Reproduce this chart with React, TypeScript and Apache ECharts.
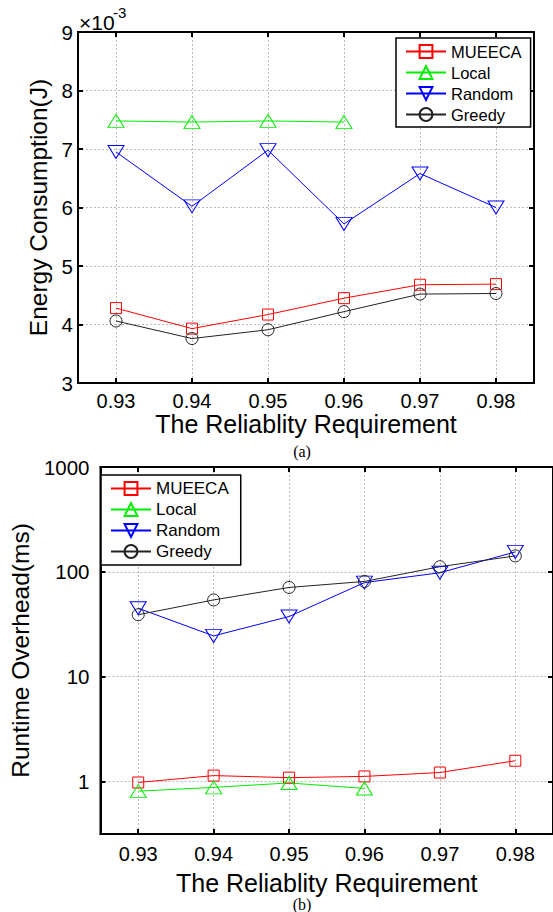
import React, { useEffect, useRef } from "react";
import * as echarts from "echarts";

const categories = ["0.93", "0.94", "0.95", "0.96", "0.97", "0.98"];
const seriesNames = ["MUEECA", "Local", "Random", "Greedy"];

// Energy consumption (x 10^-3 J)
const energyMUEECA = [4.28, 3.93, 4.17, 4.45, 4.68, 4.69];
const energyLocal = [7.48, 7.46, 7.48, 7.46];
const energyRandom = [6.95, 6.02, 6.98, 5.72, 6.58, 6.0];
const energyGreedy = [4.06, 3.76, 3.91, 4.22, 4.52, 4.53];

// Runtime overhead (ms)
const runtimeMUEECA = [0.98, 1.14, 1.09, 1.12, 1.22, 1.58];
const runtimeLocal = [0.81, 0.88, 0.97, 0.86];
const runtimeRandom = [45, 24.5, 37.5, 79, 98, 155];
const runtimeGreedy = [39, 54, 71, 81, 112, 142];

const logTickLabels = ["1", "10", "100", "1000"];

const FONT = "Liberation Sans, Arial, sans-serif";
const COLORS = ["#ff0000", "#00ee00", "#0000ff", "#222222"];
const SYMBOLS = ["rect", "triangle", "path://M0,0 L16,0 L8,13 Z", "circle"];
const SIZES: any[] = [11, [16, 13], [16, 13], 12];

function toPairs(vals: number[]) {
  return vals.map((v, i) => [i, v]);
}

function makeSeries(idx: number, vals: number[], axisIdx: number) {
  return {
    name: seriesNames[idx],
    type: "line",
    xAxisIndex: axisIdx,
    yAxisIndex: axisIdx,
    data: toPairs(vals),
    symbol: SYMBOLS[idx],
    symbolSize: SIZES[idx],
    showAllSymbol: true,
    lineStyle: { color: COLORS[idx], width: 1 },
    itemStyle: { color: "rgba(0,0,0,0)", borderColor: COLORS[idx], borderWidth: 1 },
    emphasis: { disabled: true },
    z: 3,
  };
}

const gridLine = { show: true, lineStyle: { color: "#bdbdbd", type: [2, 2], width: 1 } };
const boxLine = { show: true, onZero: false, lineStyle: { color: "#000", width: 2 } };
const inTick = { show: true, inside: true, length: 5, lineStyle: { color: "#000", width: 2 } };

function xAxisMain(gridIndex: number, margin: number, nameGap: number) {
  return {
    type: "value",
    gridIndex,
    min: -0.5,
    max: 5.5,
    minInterval: 1,
    maxInterval: 1,
    position: "bottom",
    name: "The Reliablity Requirement",
    nameLocation: "middle",
    nameGap,
    nameTextStyle: { fontFamily: FONT, fontSize: 25, color: "#000" },
    axisLine: boxLine,
    axisTick: inTick,
    axisLabel: {
      showMinLabel: false,
      showMaxLabel: false,
      margin,
      fontFamily: FONT,
      fontSize: 20,
      color: "#000",
      formatter: (v: number) => (Number.isInteger(v) ? categories[v] ?? "" : ""),
    },
    splitLine: gridLine,
  };
}

function xAxisTop(gridIndex: number) {
  return {
    type: "value",
    gridIndex,
    min: -0.5,
    max: 5.5,
    minInterval: 1,
    maxInterval: 1,
    position: "top",
    axisLine: boxLine,
    axisTick: inTick,
    axisLabel: { show: false },
    splitLine: { show: false },
  };
}

export default function App() {
  const ref = useRef<HTMLDivElement>(null);
  useEffect(() => {
    if (!ref.current) return;
    const chart = echarts.init(ref.current, undefined, { renderer: "svg" });
    const option: any = {
      animation: false,
      backgroundColor: "#fff",
      grid: [
        { left: 78, top: 32, width: 456, height: 351, show: true, borderColor: "#000", borderWidth: 2 },
        { left: 94, top: 467, width: 462, height: 367, show: true, borderColor: "#000", borderWidth: 2 },
      ],
      xAxis: [xAxisMain(0, 8, 25), xAxisTop(0), xAxisMain(1, 10, 36), xAxisTop(1)],
      yAxis: [
        {
          type: "value",
          gridIndex: 0,
          min: 3,
          max: 9,
          interval: 1,
          position: "left",
          name: "Energy Consumption(J)",
          nameLocation: "middle",
          nameGap: 23,
          nameTextStyle: { fontFamily: FONT, fontSize: 24.5, color: "#000" },
          axisLine: boxLine,
          axisTick: inTick,
          axisLabel: { margin: 5, fontFamily: FONT, fontSize: 20.5, color: "#000" },
          splitLine: gridLine,
        },
        {
          type: "value",
          gridIndex: 0,
          min: 3,
          max: 9,
          interval: 1,
          position: "right",
          axisLine: boxLine,
          axisTick: inTick,
          axisLabel: { show: false },
          splitLine: { show: false },
        },
        {
          type: "log",
          logBase: 10,
          gridIndex: 1,
          min: 0.3162278,
          max: 1000,
          position: "left",
          name: "Runtime Overhead(ms)",
          nameLocation: "middle",
          nameGap: 60,
          nameTextStyle: { fontFamily: FONT, fontSize: 24.5, color: "#000" },
          axisLine: boxLine,
          axisTick: inTick,
          axisLabel: {
            showMinLabel: false,
            margin: 11,
            fontFamily: FONT,
            fontSize: 20.5,
            color: "#000",
            formatter: (v: number) => {
              const s = String(Math.round(v));
              return logTickLabels.includes(s) && Math.abs(v - Math.round(v)) < 1e-6 ? s : "";
            },
          },
          splitLine: gridLine,
        },
        {
          type: "log",
          logBase: 10,
          gridIndex: 1,
          min: 0.3162278,
          max: 1000,
          position: "right",
          axisLine: boxLine,
          axisTick: inTick,
          axisLabel: { show: false },
          splitLine: { show: false },
        },
      ],
      legend: [
        {
          orient: "vertical",
          left: 396,
          top: 38,
          padding: [5, 9, 4, 9],
          itemWidth: 40,
          itemHeight: 16,
          itemGap: 4,
          backgroundColor: "#fff",
          borderColor: "#000",
          borderWidth: 1.5,
          borderRadius: 0,
          data: seriesNames,
          textStyle: { fontFamily: FONT, fontSize: 16.5, color: "#000" },
          selectedMode: false,
        },
        {
          orient: "vertical",
          left: 101,
          top: 475,
          padding: [5, 12, 5, 9],
          itemWidth: 40,
          itemHeight: 16,
          itemGap: 4,
          backgroundColor: "#fff",
          borderColor: "#000",
          borderWidth: 1.5,
          borderRadius: 0,
          data: seriesNames,
          textStyle: { fontFamily: FONT, fontSize: 17, color: "#000" },
          selectedMode: false,
        },
      ],
      graphic: [
        { type: "text", x: 79, y: 33, style: { text: "×10", fontFamily: FONT, fontSize: 21, fill: "#000", verticalAlign: "bottom" } },
        { type: "text", x: 113, y: 20, style: { text: "-3", fontFamily: FONT, fontSize: 15, fill: "#000", verticalAlign: "bottom" } },
        { type: "text", x: 302, y: 451, style: { text: "(a)", fontFamily: "Liberation Serif, Times New Roman, serif", fontSize: 16, fill: "#000", align: "center", verticalAlign: "middle" } },
        { type: "text", x: 302, y: 904, style: { text: "(b)", fontFamily: "Liberation Serif, Times New Roman, serif", fontSize: 16, fill: "#000", align: "center", verticalAlign: "middle" } },
      ],
      series: [
        makeSeries(0, energyMUEECA, 0),
        makeSeries(1, energyLocal, 0),
        makeSeries(2, energyRandom, 0),
        makeSeries(3, energyGreedy, 0),
        { ...makeSeries(0, runtimeMUEECA, 2), yAxisIndex: 2 },
        { ...makeSeries(1, runtimeLocal, 2), yAxisIndex: 2 },
        { ...makeSeries(2, runtimeRandom, 2), yAxisIndex: 2 },
        { ...makeSeries(3, runtimeGreedy, 2), yAxisIndex: 2 },
      ],
    };
    chart.setOption(option);
    return () => chart.dispose();
  }, []);
  return (
    <div
      ref={ref}
      style={{ position: "absolute", left: 0, top: 0, width: 553, height: 912, background: "#fff" }}
    />
  );
}
